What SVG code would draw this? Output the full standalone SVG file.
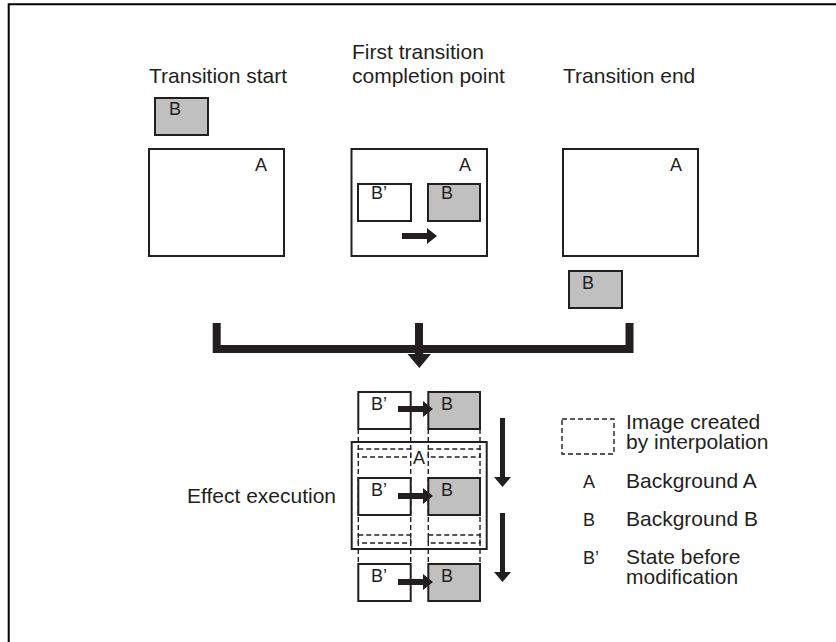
<svg xmlns="http://www.w3.org/2000/svg" width="836" height="642" viewBox="0 0 836 642">
<style>
text{font-family:"Liberation Sans",Arial,sans-serif;fill:#231f20}
.t{font-size:21px}
.l{font-size:18px}
.box{fill:#fff;stroke:#231f20;stroke-width:2}
.gb{fill:#c0c0c0;stroke:#231f20;stroke-width:2}
.dash{fill:none;stroke:#231f20;stroke-width:1.4;stroke-dasharray:5 3}
.frame{fill:none;stroke:#000;stroke-width:2}
.blk{fill:#231f20}
</style>
<defs>
<path id="harrow" d="M0,-3 H25 V-8 L35,0 L25,8 V3 H0 Z"/>
<path id="varrow" d="M-2.5,0 V59 H-8.5 L0,69 L8.5,59 H2.5 V0 Z"/>
</defs>
<rect width="836" height="642" fill="#fff"/>
<path class="frame" d="M8.7,642 V4.3 H836"/>

<g id="transition-start">
<text class="t" x="149" y="83">Transition start</text>
<rect class="gb" x="155" y="98" width="53" height="37"/>
<text class="l" x="169" y="115">B</text>
<rect class="box" x="149" y="149" width="135" height="107"/>
<text class="l" x="255" y="171">A</text>
</g>

<g id="first-completion">
<text class="t" x="352" y="59">First transition<tspan x="352" dy="24">completion point</tspan></text>
<rect class="box" x="351.5" y="149" width="135.5" height="107"/>
<text class="l" x="459" y="171">A</text>
<rect class="box" x="358" y="184" width="53" height="37"/>
<text class="l" x="371" y="199">B’</text>
<rect class="gb" x="428" y="184" width="52" height="37"/>
<text class="l" x="441" y="199">B</text>
<use href="#harrow" class="blk" x="402" y="236"/>
</g>

<g id="transition-end">
<text class="t" x="563" y="83">Transition end</text>
<rect class="box" x="563" y="149" width="135" height="107"/>
<text class="l" x="670" y="171">A</text>
<rect class="gb" x="569" y="271" width="53" height="37"/>
<text class="l" x="582" y="289">B</text>
</g>

<g id="connectors">
<path d="M216.7,323 V349 H629.5 V323" fill="none" stroke="#231f20" stroke-width="8"/>
<rect class="blk" x="415" y="323" width="8" height="32"/>
<polygon class="blk" points="407.5,354 431,354 419.3,368"/>
</g>

<g id="effect-execution">
<text class="t" x="187" y="503">Effect execution</text>
<rect class="box" x="351.7" y="442" width="135" height="107"/>
<line class="dash" x1="358.3" y1="429" x2="358.3" y2="564"/>
<line class="dash" x1="410.7" y1="429" x2="410.7" y2="564"/>
<line class="dash" x1="428.3" y1="429" x2="428.3" y2="564"/>
<line class="dash" x1="480" y1="429" x2="480" y2="564"/>
<rect class="dash" x="358.3" y="449" width="52.4" height="8"/>
<rect class="dash" x="428.3" y="449" width="51.7" height="8"/>
<rect class="dash" x="358.3" y="535" width="52.4" height="8"/>
<rect class="dash" x="428.3" y="535" width="51.7" height="8"/>
<text class="l" x="413" y="464">A</text>

<rect class="box" x="358.3" y="392" width="52.4" height="37"/>
<rect class="gb" x="428.3" y="392" width="51.7" height="37"/>
<text class="l" x="371" y="410">B’</text>
<text class="l" x="441" y="410">B</text>
<use href="#harrow" class="blk" x="398" y="409"/>

<rect class="box" x="358.3" y="478" width="52.4" height="37"/>
<rect class="gb" x="428.3" y="478" width="51.7" height="37"/>
<text class="l" x="371" y="496">B’</text>
<text class="l" x="441" y="496">B</text>
<use href="#harrow" class="blk" x="398" y="496"/>

<rect class="box" x="358.3" y="564" width="52.4" height="37"/>
<rect class="gb" x="428.3" y="564" width="51.7" height="37"/>
<text class="l" x="371" y="582">B’</text>
<text class="l" x="441" y="582">B</text>
<use href="#harrow" class="blk" x="398" y="582"/>

<use href="#varrow" class="blk" x="502.5" y="418"/>
<use href="#varrow" class="blk" x="502.5" y="513"/>
</g>

<g id="legend">
<rect class="dash" x="562" y="419" width="52" height="35"/>
<text class="t" x="626" y="429">Image created<tspan x="626" dy="19.5">by interpolation</tspan></text>
<text class="l" x="583" y="488">A</text>
<text class="t" x="626" y="488">Background A</text>
<text class="l" x="583" y="526">B</text>
<text class="t" x="626" y="526">Background B</text>
<text class="l" x="583" y="564">B’</text>
<text class="t" x="626" y="564">State before<tspan x="626" dy="20">modification</tspan></text>
</g>
</svg>
